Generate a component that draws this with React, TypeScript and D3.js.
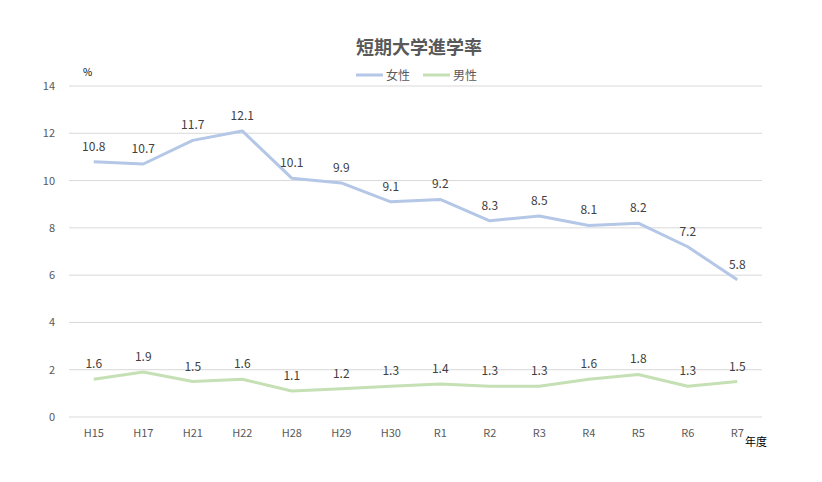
import React from "react";
import * as d3 from "d3";

const categories = ["H15", "H17", "H21", "H22", "H28", "H29", "H30", "R1", "R2", "R3", "R4", "R5", "R6", "R7"];
const female = [10.8, 10.7, 11.7, 12.1, 10.1, 9.9, 9.1, 9.2, 8.3, 8.5, 8.1, 8.2, 7.2, 5.8];
const male = [1.6, 1.9, 1.5, 1.6, 1.1, 1.2, 1.3, 1.4, 1.3, 1.3, 1.6, 1.8, 1.3, 1.5];
const yTicks = [0, 2, 4, 6, 8, 10, 12, 14];

const W = 822;
const H = 482;
const left = 69;
const right = 762;
const top = 86;
const bottom = 417;
const font = "'Noto Sans CJK JP', 'Noto Sans', sans-serif";

export default function App() {
  const x = d3.scaleBand<string>().domain(categories).range([left, right]);
  const y = d3.scaleLinear().domain([0, 14]).range([bottom, top]);
  const cx = (c: string) => (x(c) ?? 0) + x.bandwidth() / 2;
  const line = d3
    .line<number>()
    .x((_, i) => cx(categories[i]))
    .y((d) => y(d));

  const series = [
    { name: "女性", values: female, color: "#b4c7e7" },
    { name: "男性", values: male, color: "#c5e0b4" },
  ];

  return (
    <svg width={W} height={H} style={{ position: "absolute", left: 0, top: 0, background: "#fff" }} fontFamily={font}>
      <text x={419} y={54} textAnchor="middle" fontSize={18} fontWeight="bold" fill="#595959">
        短期大学進学率
      </text>
      {series.map((s, i) => {
        const lx = 356 + i * 67;
        return (
          <g key={s.name}>
            <line x1={lx} x2={lx + 27} y1={75} y2={75} stroke={s.color} strokeWidth={3} />
            <text x={lx + 30} y={79.5} fontSize={12} fill="#595959">
              {s.name}
            </text>
          </g>
        );
      })}
      <text x={83} y={76} fontSize={10} fill="#000">
        %
      </text>
      {yTicks.map((t) => (
        <g key={t}>
          <line x1={left} x2={right} y1={y(t)} y2={y(t)} stroke="#d9d9d9" strokeWidth={1} />
          <text x={55} y={y(t) + 4} textAnchor="end" fontSize={11} fill="#595959">
            {t}
          </text>
        </g>
      ))}
      {categories.map((c) => (
        <text key={c} x={cx(c)} y={437} textAnchor="middle" fontSize={11} fill="#595959">
          {c}
        </text>
      ))}
      <text x={745} y={446} fontSize={11} fill="#000">
        年度
      </text>
      {series.map((s) => (
        <g key={s.name}>
          <path d={line(s.values) ?? ""} fill="none" stroke={s.color} strokeWidth={3} strokeLinejoin="round" />
          {s.values.map((v, i) => (
            <text key={i} x={cx(categories[i])} y={y(v) - 11} textAnchor="middle" fontSize={12} fill="#404040">
              {v.toFixed(1)}
            </text>
          ))}
        </g>
      ))}
    </svg>
  );
}
